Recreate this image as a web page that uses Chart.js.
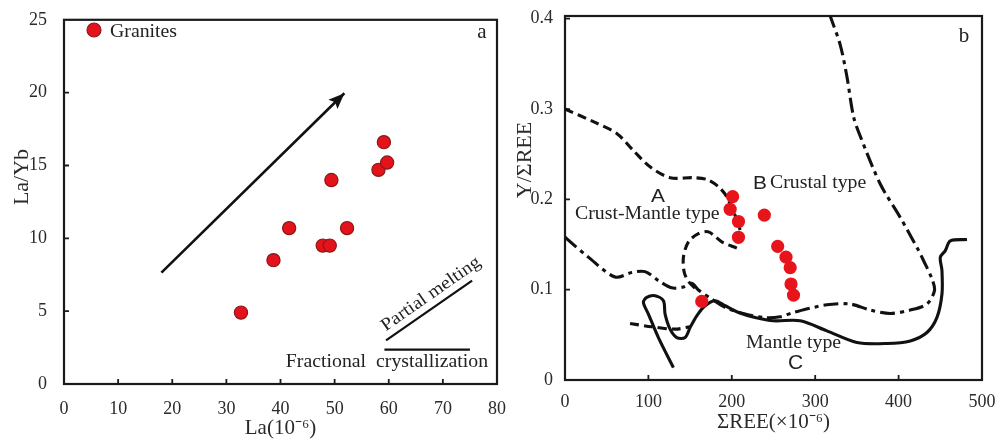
<!DOCTYPE html>
<html><head><meta charset="utf-8">
<script src="https://cdn.jsdelivr.net/npm/chart.js@4.4.0/dist/chart.umd.min.js"></script>
<style>
html,body{margin:0;padding:0;background:#fff;width:1003px;height:443px;overflow:hidden;}
canvas{position:absolute;top:0;}
#ca{left:0;}
#cb{left:500px;}
</style></head><body>
<canvas id="ca" width="520" height="443"></canvas>
<canvas id="cb" width="503" height="443"></canvas>
<script>
// ---------- Panel a data ----------
const laValues   = [32.7, 38.7, 41.6, 47.8, 49.1, 49.4, 52.3, 58.1, 59.1, 59.7];
const laYbValues = [4.9, 8.5, 10.7, 9.5, 9.5, 14.0, 10.7, 14.7, 16.6, 15.2];
const arrowLa   = [18.0, 51.8];
const arrowLaYb = [7.65, 19.96];
const meltLa    = [59.5, 75.4];
const meltLaYb  = [3.0, 7.1];
const fracLa    = [59.2, 75.0];
const fracLaYb  = [2.36, 2.36];
const xTicksA = [0, 10, 20, 30, 40, 50, 60, 70, 80];
const yTicksA = [0, 5, 10, 15, 20, 25];

// ---------- Panel b data ----------
const reeValues  = [201, 198, 208, 208, 239, 255, 265, 270, 271, 274, 164];
const yReeValues = [0.203, 0.189, 0.1755, 0.158, 0.1826, 0.148, 0.136, 0.1244, 0.1063, 0.094, 0.087];

const dashUpperX = [0, 34, 62, 82, 102, 126, 154, 170, 184, 194, 200, 206, 210];
const dashUpperY = [0.300, 0.286, 0.273, 0.254, 0.236, 0.224, 0.224, 0.222, 0.214, 0.203, 0.190, 0.178, 0.166];
const dashLoopX  = [206, 188, 172, 160, 148, 142, 143, 149, 158];
const dashLoopY  = [0.146, 0.153, 0.164, 0.162, 0.153, 0.136, 0.119, 0.108, 0.100];
const dashLowX   = [78, 104, 132, 150];
const dashLowY   = [0.0626, 0.0589, 0.0563, 0.0589];

const dashDotX = [0, 28, 60, 80, 96, 112, 128, 142, 152, 160, 176, 192, 216, 240, 258, 274, 314, 342, 366, 390, 414, 434, 443, 440, 430, 424, 402, 378, 354, 346, 338, 330, 318];
const dashDotY = [0.158, 0.136, 0.114, 0.119, 0.120, 0.110, 0.102, 0.103, 0.107, 0.0996, 0.0896, 0.0804, 0.0730, 0.0690, 0.0700, 0.0748, 0.0833, 0.0841, 0.0774, 0.0737, 0.0774, 0.0841, 0.0989, 0.112, 0.132, 0.1433, 0.180, 0.217, 0.270, 0.2915, 0.336, 0.371, 0.403];

const solidX = [130, 112, 100, 94, 98, 108, 118, 120, 126, 134, 144, 150, 158, 168, 180, 192, 208, 228, 250, 282, 314, 350, 386, 414, 434, 446, 452, 452, 450, 456, 462, 482];
const solidY = [0.0137, 0.047, 0.073, 0.0859, 0.0915, 0.0933, 0.0878, 0.073, 0.0563, 0.047, 0.047, 0.0581, 0.0711, 0.0822, 0.0878, 0.0822, 0.0748, 0.0693, 0.0656, 0.0656, 0.0544, 0.0415, 0.0404, 0.0433, 0.0526, 0.0693, 0.0952, 0.121, 0.136, 0.1433, 0.154, 0.1555];

const xTicksB = [0, 100, 200, 300, 400, 500];
const yTicksB = [0, 0.1, 0.2, 0.3, 0.4];

// ---------- helpers ----------
const SERIF = '"Liberation Serif", "Times New Roman", serif';
const SANS = '"Liberation Sans", Arial, sans-serif';
const TXT = '#222';
const pts = (xs, ys) => xs.map((x, i) => ({x: x, y: ys[i]}));
const DEG = Math.PI / 180;

function txt(ctx, t) {
  ctx.save();
  ctx.translate(t.x, t.y);
  if (t.rot) ctx.rotate(t.rot);
  ctx.scale(t.sx || 1, 1);
  ctx.font = t.font;
  ctx.fillStyle = t.color || TXT;
  ctx.textAlign = t.align || 'left';
  ctx.textBaseline = t.baseline || 'alphabetic';
  ctx.fillText(t.s, 0, 0);
  ctx.restore();
}

const framePlugin = {
  id: 'frame',
  beforeDatasetsDraw(chart, args, o) {
    const ctx = chart.ctx, a = chart.chartArea;
    const xs = chart.scales.x, ys = chart.scales.y;
    ctx.save();
    ctx.strokeStyle = '#1a1a1a';
    ctx.lineWidth = o.boxWidth || 2;
    ctx.strokeRect(a.left, a.top, a.right - a.left, a.bottom - a.top);
    ctx.lineWidth = 1.8;
    ctx.beginPath();
    xs.ticks.forEach(t => {
      if (t.value === xs.min || t.value === xs.max) return;
      const px = xs.getPixelForValue(t.value);
      ctx.moveTo(px, a.bottom); ctx.lineTo(px, a.bottom - 5);
    });
    ys.ticks.forEach(t => {
      if (t.value === ys.min || t.value === ys.max) return;
      const py = ys.getPixelForValue(t.value);
      ctx.moveTo(a.left, py); ctx.lineTo(a.left + 5, py);
    });
    ctx.stroke();
    ctx.restore();
  },
  afterDraw(chart, args, o) {
    const ctx = chart.ctx;
    const xs = chart.scales.x, ys = chart.scales.y;
    (o.texts || []).forEach(t => txt(ctx, t));
    if (o.legendDot) {
      const d = o.legendDot;
      ctx.save();
      ctx.beginPath();
      ctx.arc(d.x, d.y, d.r, 0, Math.PI * 2);
      ctx.fillStyle = d.fill; ctx.fill();
      ctx.lineWidth = d.bw; ctx.strokeStyle = d.stroke; ctx.stroke();
      ctx.restore();
    }
    if (o.arrowDataset !== undefined) {
      const data = chart.data.datasets[o.arrowDataset].data;
      const p0 = {x: xs.getPixelForValue(data[0].x), y: ys.getPixelForValue(data[0].y)};
      const p1 = {x: xs.getPixelForValue(data[1].x), y: ys.getPixelForValue(data[1].y)};
      const ang = Math.atan2(p1.y - p0.y, p1.x - p0.x);
      const L = 16, W = 6.5;
      ctx.save();
      ctx.translate(p1.x, p1.y);
      ctx.rotate(ang);
      ctx.beginPath();
      ctx.moveTo(0, 0); ctx.lineTo(-L, -W); ctx.lineTo(-L + 3, 0); ctx.lineTo(-L, W); ctx.closePath();
      ctx.fillStyle = '#111'; ctx.fill();
      ctx.restore();
    }
  }
};

function axisOpts(min, max, tickVals, pad, size, fmt) {
  return {
    type: 'linear', min: min, max: max,
    afterBuildTicks: s => { s.ticks = tickVals.map(v => ({value: v})); },
    grid: {display: false},
    border: {display: false},
    ticks: {autoSkip: false, maxRotation: 0, padding: pad, color: '#2a2a2a',
      font: {family: SERIF, size: size}, callback: v => fmt(v)}
  };
}

// ---------- Chart a ----------
const redA = '#e3121b';
const xa = axisOpts(0, 80, xTicksA, 6, 18, v => String(v));
xa.afterFit = s => { s.height = 59; };
xa.title = {display: true, text: 'La(10\u207B\u2076)', color: '#2a2a2a', font: {family: SERIF, size: 21}, padding: {top: 0, bottom: 2}};
const ya = axisOpts(0, 25, yTicksA, 9, 18, v => String(v));
ya.afterFit = s => { s.width = 64; };

new Chart(document.getElementById('ca'), {
  type: 'scatter',
  data: {datasets: [
    {label: 'Granites', data: pts(laValues, laYbValues), backgroundColor: redA, borderColor: '#8a1a1a', borderWidth: 1.2, pointRadius: 6.6, pointHoverRadius: 6.6},
    {label: 'trend', data: pts(arrowLa, arrowLaYb), showLine: true, borderColor: '#111', borderWidth: 2.6, pointRadius: 0},
    {label: 'Partial melting', data: pts(meltLa, meltLaYb), showLine: true, borderColor: '#111', borderWidth: 2.2, pointRadius: 0},
    {label: 'Fractional crystallization', data: pts(fracLa, fracLaYb), showLine: true, borderColor: '#111', borderWidth: 2.2, pointRadius: 0}
  ]},
  options: {
    responsive: false, animation: false, devicePixelRatio: 1,
    layout: {padding: {left: 0, right: 23, top: 15, bottom: 0}},
    plugins: {
      legend: {display: false}, tooltip: {enabled: false},
      frame: {
        boxWidth: 2.2,
        arrowDataset: 1,
        legendDot: {x: 94, y: 30, r: 7, fill: redA, stroke: '#8a1a1a', bw: 1.2},
        texts: [
          {s: 'Granites', x: 110, y: 36.5, font: '18px ' + SERIF, sx: 1.1},
          {s: 'a', x: 482, y: 38.3, align: 'center', font: '21px ' + SERIF},
          {s: 'Partial melting', x: 431, y: 294, rot: -35 * DEG, align: 'center', baseline: 'middle', font: '18px ' + SERIF, sx: 1.1},
          {s: 'Fractional  crystallization', x: 387, y: 366.5, align: 'center', font: '18px ' + SERIF, sx: 1.1},
          {s: 'La/Yb', x: 22, y: 177, rot: -90 * DEG, align: 'center', baseline: 'middle', font: '22px ' + SERIF, color: '#2a2a2a'}
        ]
      }
    },
    scales: {x: xa, y: ya}
  },
  plugins: [framePlugin]
});

// ---------- Chart b ----------
const redB = '#e8141c';
const xb = axisOpts(0, 500, xTicksB, 3, 18, v => String(v));
xb.afterFit = s => { s.height = 63; };
xb.title = {display: true, text: '\u03A3REE(\u00D710\u207B\u2076)', color: '#2a2a2a', font: {family: SERIF, size: 21}, padding: {top: 0, bottom: 8}};
const yb = axisOpts(0, 0.403, yTicksB, 4, 18, v => String(v));
yb.afterFit = s => { s.width = 65; };

const curve = (xs, ys, dash) => ({data: pts(xs, ys), showLine: true, borderColor: '#111', borderWidth: 3.1, borderDash: dash, pointRadius: 0, tension: 0.3});

new Chart(document.getElementById('cb'), {
  type: 'scatter',
  data: {datasets: [
    {label: 'Granites', data: pts(reeValues, yReeValues), backgroundColor: redB, borderWidth: 0, pointRadius: 6.6, pointHoverRadius: 6.6},
    Object.assign({label: 'A upper'}, curve(dashUpperX, dashUpperY, [9, 5])),
    Object.assign({label: 'A loop'}, curve(dashLoopX, dashLoopY, [9, 5])),
    Object.assign({label: 'A lower'}, curve(dashLowX, dashLowY, [9, 5])),
    Object.assign({label: 'B boundary'}, curve(dashDotX, dashDotY, [15, 5, 4, 5])),
    Object.assign({label: 'C boundary'}, curve(solidX, solidY, []))
  ]},
  options: {
    responsive: false, animation: false, devicePixelRatio: 1,
    layout: {padding: {left: 0, right: 21, top: 16, bottom: 0}},
    plugins: {
      legend: {display: false}, tooltip: {enabled: false},
      frame: {
        boxWidth: 2.2,
        texts: [
          {s: 'b', x: 464, y: 41.7, align: 'center', font: '21px ' + SERIF},
          {s: 'B', x: 260, y: 189, align: 'center', font: '19px ' + SANS, sx: 1.1},
          {s: 'Crustal type', x: 270, y: 188, font: '18px ' + SERIF, sx: 1.1},
          {s: 'A', x: 158, y: 202, align: 'center', font: '19px ' + SANS, sx: 1.1},
          {s: 'Crust-Mantle type', x: 75, y: 219, font: '18px ' + SERIF, sx: 1.1},
          {s: 'Mantle type', x: 246, y: 347.5, font: '18px ' + SERIF, sx: 1.1},
          {s: 'C', x: 295.5, y: 369, align: 'center', font: '20px ' + SANS, sx: 1.05},
          {s: 'Y/\u03A3REE', x: 25, y: 160, rot: -90 * DEG, align: 'center', baseline: 'middle', font: '22px ' + SERIF, color: '#2a2a2a'}
        ]
      }
    },
    scales: {x: xb, y: yb}
  },
  plugins: [framePlugin]
});
</script>
</body></html>
